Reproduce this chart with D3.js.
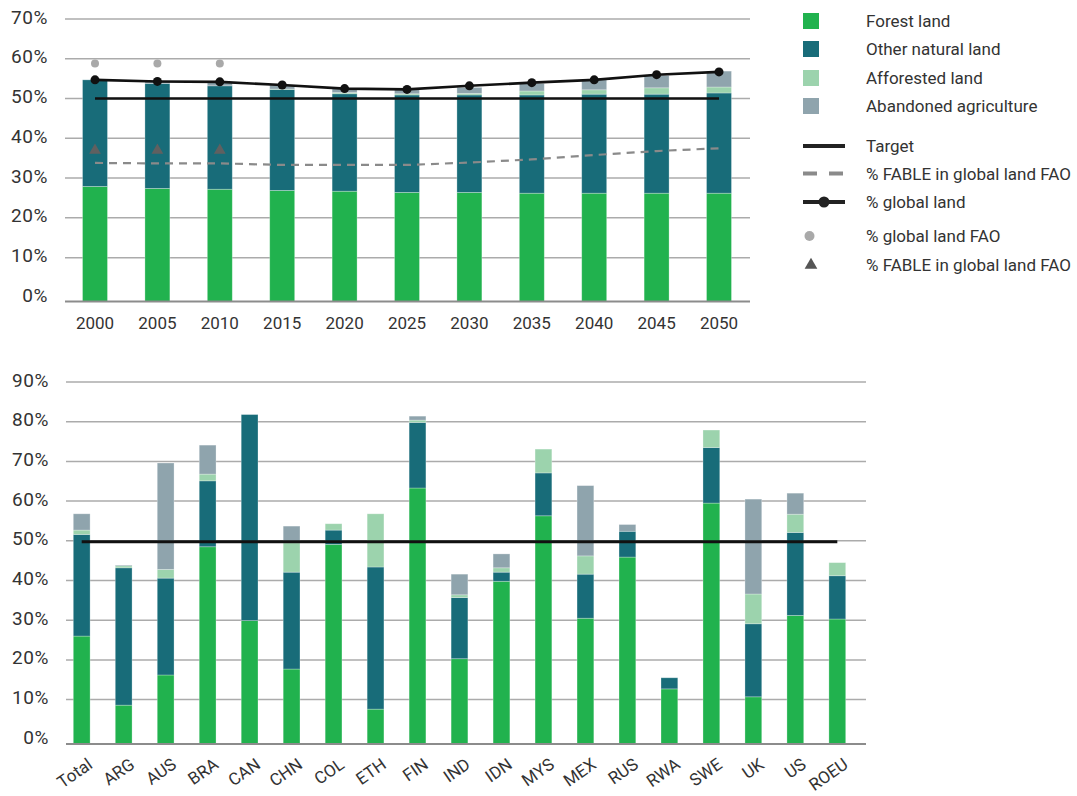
<!DOCTYPE html>
<html><head><meta charset="utf-8">
<script src="https://cdn.jsdelivr.net/npm/d3@7"></script>
<style>
body{margin:0;background:#fff;}
svg text{font-family:Roboto,"Open Sans",sans-serif;fill:#333;}
</style></head>
<body><svg id="c" width="1077" height="796"></svg>
<script>
// ---------- Top chart data (percent) ----------
const years = ["2000","2005","2010","2015","2020","2025","2030","2035","2040","2045","2050"];
const topForest     = [27.9, 27.4, 27.2, 26.9, 26.7, 26.4, 26.4, 26.2, 26.2, 26.2, 26.2];
const topOther      = [26.8, 26.4, 26.0, 25.4, 24.5, 24.5, 24.5, 24.7, 24.9, 24.9, 25.2];
const topAfforested = [0.0, 0.0, 0.0, 0.1, 0.3, 0.3, 0.4, 1.0, 1.1, 1.6, 1.5];
const topAbandoned  = [0.0, 0.5, 0.9, 1.0, 1.0, 1.1, 1.5, 1.9, 2.5, 3.1, 4.0];
const globalLand    = [54.7, 54.3, 54.2, 53.4, 52.5, 52.3, 53.2, 54.0, 54.7, 56.0, 56.7];
const fableFAO      = [33.8, 33.7, 33.7, 33.3, 33.3, 33.3, 33.9, 34.7, 35.8, 36.8, 37.5];
const faoYears      = ["2000","2005","2010"];
const globalLandFAO = [58.8, 58.8, 58.8];
const fableFAOpts   = [37.0, 37.0, 37.0];
const target        = 50;
const topTicks = [0,10,20,30,40,50,60,70];

// ---------- Bottom chart data (percent) ----------
const countries = ["Total","ARG","AUS","BRA","CAN","CHN","COL","ETH","FIN","IND","IDN","MYS","MEX","RUS","RWA","SWE","UK","US","ROEU"];
const cForest     = [26.0, 8.6, 16.2, 48.5, 29.9, 17.7, 49.1, 7.6, 63.3, 20.3, 39.8, 56.3, 30.5, 45.9, 12.7, 59.5, 10.7, 31.2, 30.3];
const cOther      = [25.6, 34.6, 24.4, 16.6, 51.9, 24.4, 3.6, 35.8, 16.5, 15.4, 2.3, 10.8, 11.1, 6.5, 2.8, 14.0, 18.4, 20.9, 10.9];
const cAfforested = [1.1, 0.5, 2.2, 1.7, 0.0, 7.4, 1.6, 13.4, 0.6, 0.7, 1.1, 6.0, 4.6, 0.0, 0.0, 4.4, 7.5, 4.6, 3.3];
const cAbandoned  = [4.1, 0.2, 26.8, 7.3, 0.0, 4.2, 0.0, 0.0, 1.0, 5.2, 3.5, 0.0, 17.7, 1.7, 0.0, 0.0, 23.9, 5.3, 0.0];
const botTicks = [0,10,20,30,40,50,60,70,80,90];

const seriesNames = ["Forest land","Other natural land","Afforested land","Abandoned agriculture"];
const colors = ["#21b24e","#186c79","#9cd3ad","#8fa4ad"];

const svg = d3.select("#c");
const fmt = d => d + "%";

function stackedChart(opts){
  const {cats, segs, x0, x1, gx0, gx1, y0, yTop, maxV, base, ticks, padding} = opts;
  const x = d3.scaleBand().domain(cats).range([x0, x1]).paddingInner(padding).paddingOuter(padding/2);
  const y = d3.scaleLinear().domain([0, maxV]).range([y0, yTop]);
  const g = svg.append("g");
  // gridlines
  g.selectAll("line.grid").data(ticks.filter(t => t > 0)).join("line")
    .attr("x1", gx0).attr("x2", gx1).attr("y1", d => y(d)).attr("y2", d => y(d))
    .attr("stroke", "#ababab").attr("stroke-width", 1.5);
  // y labels
  const yAxis = d3.axisLeft(y).tickValues(ticks).tickFormat(fmt).tickSize(0).tickPadding(0);
  const ya = g.append("g").attr("transform", `translate(${gx0 - 17},-2)`).call(yAxis);
  ya.select(".domain").remove();
  ya.selectAll("text").style("font-size", "19px").style("letter-spacing", "0.6px").attr("fill", "#333");
  // stacks
  const rows = cats.map((c, i) => ({cat: c, s0: segs[0][i], s1: segs[1][i], s2: segs[2][i], s3: segs[3][i]}));
  const stack = d3.stack().keys(["s0","s1","s2","s3"])(rows);
  stack.forEach((layer, li) => {
    g.append("g").selectAll("rect").data(layer).join("rect")
      .attr("x", d => x(d.data.cat))
      .attr("width", x.bandwidth())
      .attr("y", d => y(d[1]))
      .attr("height", d => Math.max(0, (d[0] === 0 ? base : y(d[0])) - y(d[1])))
      .attr("fill", colors[li])
      .attr("stroke", d => (d[1] - d[0]) > 0.05 ? "rgba(255,255,255,0.35)" : "none")
      .attr("stroke-width", 0.8);
  });
  // baseline
  g.append("line").attr("x1", gx0).attr("x2", gx1).attr("y1", base).attr("y2", base)
    .attr("stroke", "#8c8c8c").attr("stroke-width", 2);
  return {x, y, g};
}

// ---------- Top chart ----------
const T = stackedChart({cats: years, segs: [topForest, topOther, topAfforested, topAbandoned],
  x0: 63.8, x1: 750.2, gx0: 65, gx1: 750, y0: 297.4, yTop: 19, maxV: 70, base: 301.5,
  ticks: topTicks, padding: 0.6});
const xc = d => T.x(d) + T.x.bandwidth()/2;
// x labels
T.g.append("g").selectAll("text").data(years).join("text")
  .attr("x", d => xc(d)).attr("y", 329).attr("text-anchor", "middle")
  .style("font-size", "17px").text(d => d);
// FABLE dashed line
T.g.append("path").datum(fableFAO)
  .attr("d", d3.line().x((d,i) => xc(years[i])).y(d => T.y(d)))
  .attr("fill", "none").attr("stroke", "#8a8a8a").attr("stroke-width", 2.2).attr("stroke-dasharray", "8,6");
// Target
T.g.append("line").attr("x1", xc(years[0])).attr("x2", xc(years[years.length-1]))
  .attr("y1", T.y(target)).attr("y2", T.y(target)).attr("stroke", "#111").attr("stroke-width", 2.6);
// global land line
T.g.append("path").datum(globalLand)
  .attr("d", d3.line().x((d,i) => xc(years[i])).y(d => T.y(d)))
  .attr("fill", "none").attr("stroke", "#111").attr("stroke-width", 2.6);
T.g.append("g").selectAll("circle").data(globalLand).join("circle")
  .attr("cx", (d,i) => xc(years[i])).attr("cy", d => T.y(d)).attr("r", 4.5).attr("fill", "#111");
// FAO dots
T.g.append("g").selectAll("circle").data(globalLandFAO).join("circle")
  .attr("cx", (d,i) => xc(faoYears[i])).attr("cy", d => T.y(d)).attr("r", 4).attr("fill", "#a9a9a9");
// FAO triangles
const tri = d3.symbol().type(d3.symbolTriangle).size(60);
T.g.append("g").selectAll("path").data(fableFAOpts).join("path")
  .attr("d", tri).attr("transform", (d,i) => `translate(${xc(faoYears[i])},${T.y(d)})`).attr("fill", "#606060");

// ---------- Legend ----------
const L = svg.append("g");
const lx = 803, tx = 866;
seriesNames.forEach((n, i) => {
  const cy = [21, 49, 78, 106][i];
  L.append("rect").attr("x", lx).attr("y", cy - 8).attr("width", 16).attr("height", 16).attr("fill", colors[i]);
  L.append("text").attr("x", tx).attr("y", cy + 6).style("font-size", "17px").text(n);
});
const legLines = [
  {n: "Target", y: 146, type: "solid"},
  {n: "% FABLE in global land FAO", y: 173.5, type: "dash"},
  {n: "% global land", y: 202, type: "dot"},
  {n: "% global land FAO", y: 236, type: "fao"},
  {n: "% FABLE in global land FAO", y: 265, type: "tri"}
];
legLines.forEach(d => {
  if (d.type === "solid" || d.type === "dot")
    L.append("line").attr("x1", lx).attr("x2", 845).attr("y1", d.y).attr("y2", d.y).attr("stroke", "#222").attr("stroke-width", 4);
  if (d.type === "dash")
    L.append("line").attr("x1", lx).attr("x2", 845).attr("y1", d.y).attr("y2", d.y).attr("stroke", "#8a8a8a").attr("stroke-width", 4).attr("stroke-dasharray", "14,12");
  if (d.type === "dot")
    L.append("circle").attr("cx", 824).attr("cy", d.y).attr("r", 5.5).attr("fill", "#222");
  if (d.type === "fao")
    L.append("circle").attr("cx", 809.5).attr("cy", d.y).attr("r", 5).attr("fill", "#a9a9a9");
  if (d.type === "tri")
    L.append("path").attr("d", d3.symbol().type(d3.symbolTriangle).size(70)).attr("transform", `translate(811,${d.y})`).attr("fill", "#555");
  L.append("text").attr("x", tx).attr("y", d.y + 6).style("font-size", "17px").text(d.n);
});

// ---------- Bottom chart ----------
const B = stackedChart({cats: countries, segs: [cForest, cOther, cAfforested, cAbandoned],
  x0: 60.7, x1: 858.3, gx0: 66, gx1: 866, y0: 739.3, yTop: 382, maxV: 90, base: 744,
  ticks: botTicks, padding: 0.6});
const bxc = d => B.x(d) + B.x.bandwidth()/2;
B.g.append("line").attr("x1", bxc(countries[0])).attr("x2", bxc(countries[countries.length-1]))
  .attr("y1", B.y(target) + 1).attr("y2", B.y(target) + 1).attr("stroke", "#111").attr("stroke-width", 3);
B.g.append("g").selectAll("text").data(countries).join("text")
  .attr("text-anchor", "end")
  .attr("transform", d => `translate(${bxc(d) + 12},${767}) rotate(-35)`)
  .style("font-size", "17px").text(d => d);
</script></body></html>
